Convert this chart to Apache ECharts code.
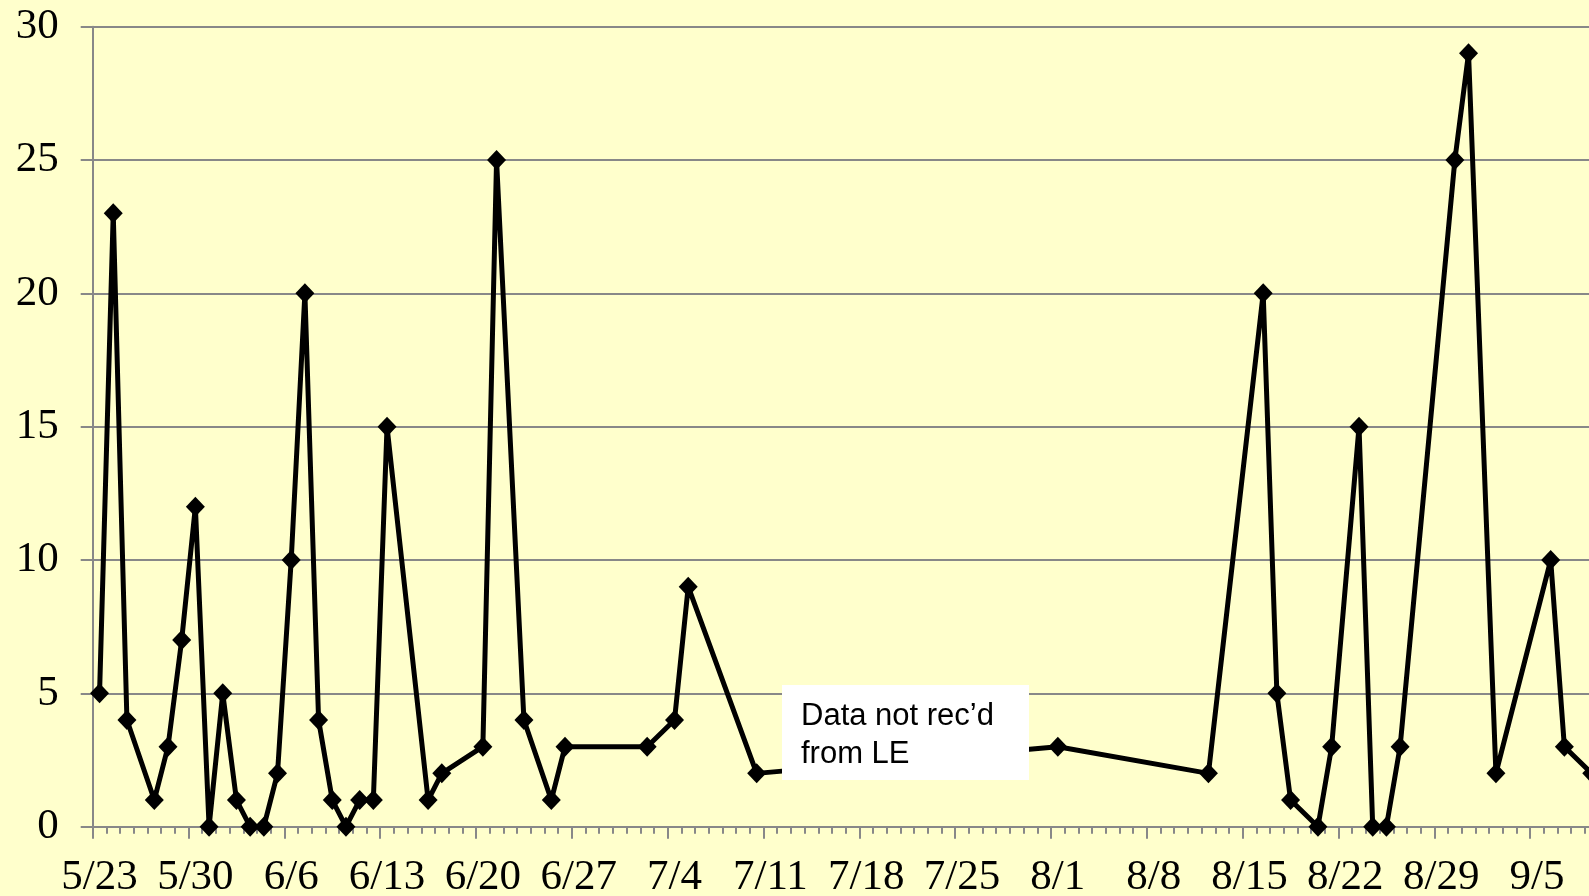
<!DOCTYPE html>
<html>
<head>
<meta charset="utf-8">
<script src="https://cdn.jsdelivr.net/npm/echarts@6/dist/echarts.min.js"></script>
<style>
html,body{margin:0;padding:0;background:#FFFFCC;}
#c{width:1589px;height:896px;}
</style>
</head>
<body>
<div id="c"></div>
<script>
// Dates (M/D) and counts
const dates = ['5/23','5/24','5/25','5/27','5/28','5/29','5/30','5/31','6/1','6/2','6/3','6/4','6/5','6/6','6/7','6/8','6/9','6/10','6/11','6/12','6/13','6/16','6/17','6/20','6/21','6/23','6/25','6/26','7/2','7/4','7/5','7/10','8/1','8/12','8/16','8/17','8/18','8/20','8/21','8/23','8/24','8/25','8/26','8/30','8/31','9/2','9/6','9/7','9/9'];
const values = [5,23,4,1,3,7,12,0,5,1,0,0,2,10,20,4,1,0,1,1,15,1,2,3,25,4,1,3,3,4,9,2,3,2,20,5,1,0,3,15,0,0,3,25,29,2,10,3,2];
const tickLabels = ['5/23','5/30','6/6','6/13','6/20','6/27','7/4','7/11','7/18','7/25','8/1','8/8','8/15','8/22','8/29','9/5'];
const yTicks = [0,5,10,15,20,25,30];
const noteText = 'Data not rec\u2019d\nfrom LE';

const startDate = '5/23';
function dayIndex(s){
  const p = s.split('/').map(Number);
  const q = startDate.split('/').map(Number);
  return Math.round((Date.UTC(2001,p[0]-1,p[1]) - Date.UTC(2001,q[0]-1,q[1]))/86400000);
}
// each day occupies one unit; a point sits in the middle of its day
const seriesData = dates.map((d,i)=>[dayIndex(d)+0.5, values[i]]);

const dayPx = 13.69;
const gridLeft = 92.7;
const axisDays = 110;
const chart = echarts.init(document.getElementById('c'));
chart.setOption({
  backgroundColor:'#FFFFCC',
  animation:false,
  grid:{left:gridLeft, top:26.7, width:dayPx*axisDays, height:800, containLabel:false, outerBoundsMode:'none'},
  xAxis:{
    type:'value', min:0, max:axisDays, interval:7,
    axisLine:{show:true, lineStyle:{color:'#888', width:2}},
    axisTick:{show:true, length:12, inside:false, lineStyle:{color:'#888', width:2}},
    minorTick:{show:true, splitNumber:7, length:7, lineStyle:{color:'#888', width:2}},
    splitLine:{show:false},
    axisLabel:{
      margin:30,
      formatter:function(v){
        const k = Math.round(v/7);
        if (Math.abs(v - k*7) > 1e-6 || k >= tickLabels.length) return '';
        return '{a|' + tickLabels[k] + '}';
      },
      rich:{a:{fontFamily:'Liberation Serif', fontSize:43, color:'#000', padding:[0,0,0,dayPx]}},
      showMaxLabel:false
    }
  },
  yAxis:{
    type:'value', min:yTicks[0], max:yTicks[yTicks.length-1], interval:5,
    axisLine:{show:true, lineStyle:{color:'#888', width:2}},
    axisTick:{show:true, length:12, inside:false, lineStyle:{color:'#888', width:2}},
    splitLine:{show:true, lineStyle:{color:'#888', width:2}},
    axisLabel:{margin:34, fontFamily:'Liberation Serif', fontSize:43, color:'#000'}
  },
  series:[{
    type:'line',
    data:seriesData,
    symbol:'diamond',
    symbolSize:[19,20],
    showAllSymbol:true,
    clip:true,
    itemStyle:{color:'#000'},
    lineStyle:{color:'#000', width:5},
    z:5
  }],
  graphic:[
    {type:'rect', z:100, zlevel:0, shape:{x:782, y:685, width:247, height:95}, style:{fill:'#fff'}},
    {type:'text', z:101, zlevel:0, x:801, y:697, style:{text:noteText, font:'31px "Liberation Sans"', fill:'#000', lineHeight:38}}
  ]
});
</script>
</body>
</html>
